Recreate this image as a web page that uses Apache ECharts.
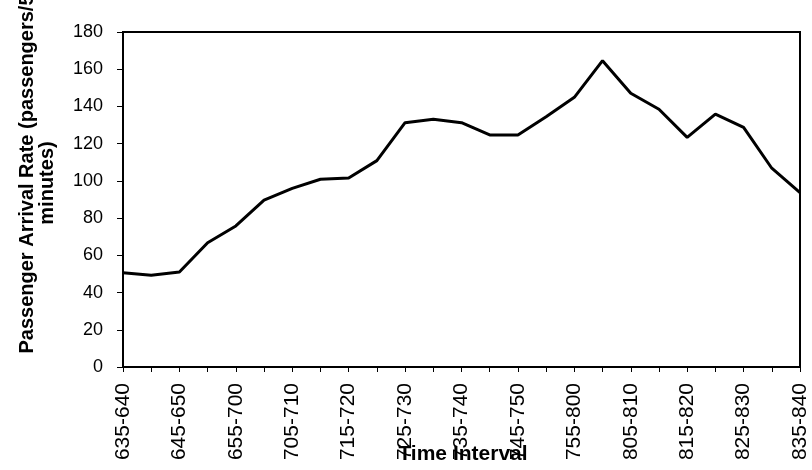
<!DOCTYPE html>
<html>
<head>
<meta charset="utf-8">
<script src="https://cdn.jsdelivr.net/npm/echarts@6/dist/echarts.min.js"></script>
<style>
html,body{margin:0;padding:0;background:#fff;}
#chart{width:812px;height:470px;}
</style>
</head>
<body>
<div id="chart"></div>
<script>
var categories = ['635-640','640-645','645-650','650-655','655-700','700-705','705-710','710-715','715-720','720-725','725-730','730-735','735-740','740-745','745-750','750-755','755-800','800-805','805-810','810-815','815-820','820-825','825-830','830-835','835-840'];
var arrivalRate = [50.7,49.3,51,66.8,75.8,89.7,96,100.9,101.6,110.9,131.3,133.1,131.3,124.7,124.7,134.5,144.9,164.6,147.1,138.5,123.4,135.9,128.8,106.8,93.7];
var yTicks = {min:0, max:180, interval:20};
var xTitle = 'Time Interval';
var yTitleLine1 = 'Passenger Arrival Rate (passengers/5';
var yTitleLine2 = 'minutes)';

var chart = echarts.init(document.getElementById('chart'), null, {renderer:'canvas'});
var font = 'Liberation Sans, Arial, Helvetica, sans-serif';
chart.setOption({
  animation:false,
  backgroundColor:'#fff',
  grid:{left:123,right:12,top:32,bottom:103,show:true,borderColor:'#000',borderWidth:2,backgroundColor:'transparent'},
  xAxis:{
    type:'category',
    data:categories,
    boundaryGap:false,
    axisLine:{lineStyle:{color:'#000',width:2}},
    axisTick:{show:true,length:5,interval:0,lineStyle:{color:'#000',width:1}},
    axisLabel:{interval:1,rotate:90,margin:16,color:'#000',fontSize:21,fontFamily:font},
    splitLine:{show:false}
  },
  yAxis:{
    type:'value',
    min:yTicks.min,max:yTicks.max,interval:yTicks.interval,
    axisLine:{show:true,lineStyle:{color:'#000',width:2}},
    axisTick:{show:true,length:6,lineStyle:{color:'#000',width:1}},
    axisLabel:{margin:20,color:'#000',fontSize:18,fontFamily:font},
    splitLine:{show:false}
  },
  graphic:[
    {type:'text',x:463,y:454,style:{text:xTitle,font:'bold 21px '+font,fill:'#000',textAlign:'center',textVerticalAlign:'middle'}},
    {type:'text',x:27,y:174,rotation:Math.PI/2,style:{text:yTitleLine1,font:'bold 20px '+font,fill:'#000',textAlign:'center',textVerticalAlign:'middle'}},
    {type:'text',x:47,y:183,rotation:Math.PI/2,style:{text:yTitleLine2,font:'bold 20px '+font,fill:'#000',textAlign:'center',textVerticalAlign:'middle'}}
  ],
  series:[{
    type:'line',
    data:arrivalRate,
    symbol:'none',
    lineStyle:{color:'#000',width:3},
    z:5
  }]
});
</script>
</body>
</html>
